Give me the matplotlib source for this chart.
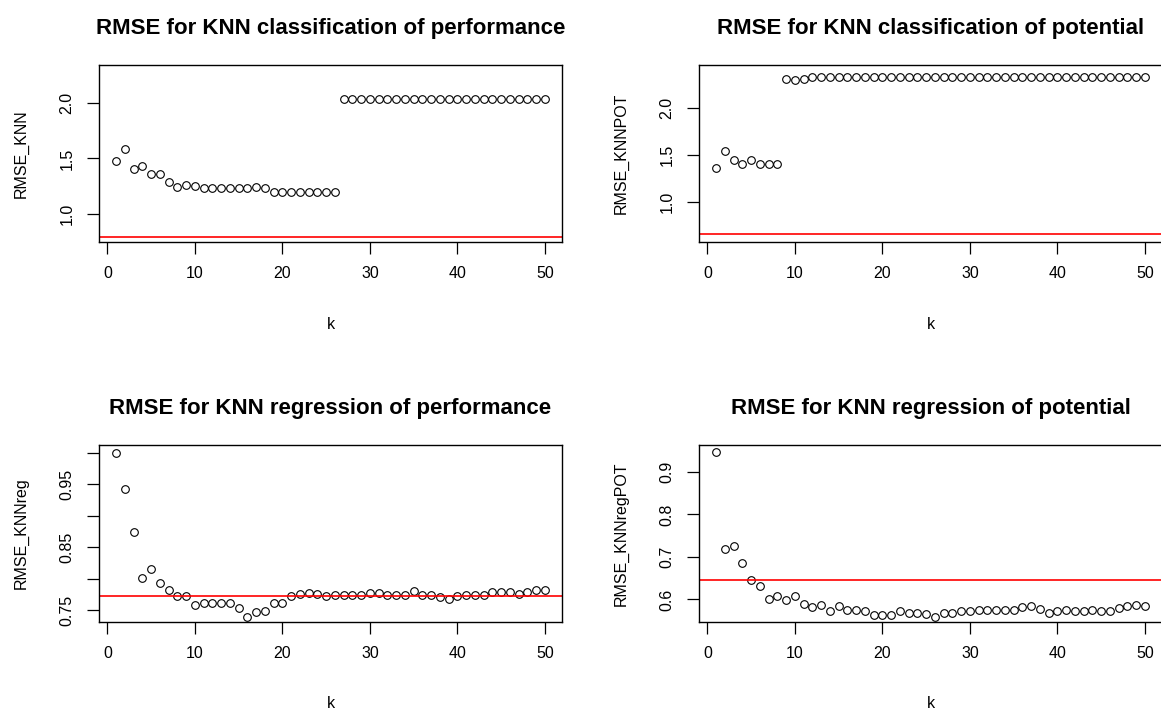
import numpy as np
import matplotlib
matplotlib.use("Agg")
import matplotlib.pyplot as plt

plt.rcParams["font.family"] = ["Liberation Sans", "DejaVu Sans"]

# k values tried
k = np.arange(1, 51)

# RMSE, KNN classification of performance
rmse_knn = [1.48, 1.59, 1.40, 1.43, 1.36, 1.36, 1.29, 1.24, 1.26, 1.25,
            1.23, 1.23, 1.23, 1.23, 1.23, 1.23, 1.24, 1.23, 1.20, 1.20,
            1.20, 1.20, 1.20, 1.20, 1.20, 1.20, 2.04, 2.04, 2.04, 2.04,
            2.04, 2.04, 2.04, 2.04, 2.04, 2.04, 2.04, 2.04, 2.04, 2.04,
            2.04, 2.04, 2.04, 2.04, 2.04, 2.04, 2.04, 2.04, 2.04, 2.04]

# RMSE, KNN classification of potential
rmse_knnpot = [1.36, 1.54, 1.44, 1.40, 1.45, 1.40, 1.40, 1.40, 2.30, 2.29,
               2.31, 2.33, 2.33, 2.33, 2.33, 2.33, 2.33, 2.33, 2.33, 2.33,
               2.33, 2.33, 2.33, 2.33, 2.33, 2.33, 2.33, 2.33, 2.33, 2.33,
               2.33, 2.33, 2.33, 2.33, 2.33, 2.33, 2.33, 2.33, 2.33, 2.33,
               2.33, 2.33, 2.33, 2.33, 2.33, 2.33, 2.33, 2.33, 2.33, 2.33]

# RMSE, KNN regression of performance
rmse_knnreg = [1.000, 0.942, 0.874, 0.802, 0.816, 0.793, 0.782, 0.772, 0.772, 0.758,
               0.762, 0.762, 0.761, 0.762, 0.754, 0.740, 0.747, 0.749, 0.762, 0.762,
               0.772, 0.776, 0.778, 0.776, 0.772, 0.775, 0.775, 0.775, 0.775, 0.7775,
               0.7775, 0.775, 0.775, 0.775, 0.780, 0.775, 0.775, 0.771, 0.768, 0.772,
               0.775, 0.775, 0.775, 0.779, 0.779, 0.779, 0.776, 0.779, 0.782, 0.782]

# RMSE, KNN regression of potential
rmse_knnregpot = [0.946, 0.718, 0.725, 0.685, 0.646, 0.632, 0.602, 0.609, 0.599, 0.609,
                  0.590, 0.583, 0.587, 0.573, 0.584, 0.576, 0.576, 0.574, 0.563, 0.563,
                  0.563, 0.572, 0.569, 0.569, 0.566, 0.558, 0.569, 0.569, 0.5725, 0.5725,
                  0.576, 0.576, 0.576, 0.576, 0.576, 0.582, 0.585, 0.577, 0.568, 0.5725,
                  0.576, 0.5725, 0.5725, 0.576, 0.574, 0.5725, 0.579, 0.5835, 0.5875, 0.5835]

# baseline RMSE (red reference lines)
baselines = [0.79, 0.66, 0.773, 0.646]

titles = ["RMSE for KNN classification of performance",
          "RMSE for KNN classification of potential",
          "RMSE for KNN regression of performance",
          "RMSE for KNN regression of potential"]
ylabels = ["RMSE_KNN", "RMSE_KNNPOT", "RMSE_KNNreg", "RMSE_KNNregPOT"]
ylims = [(0.742, 2.348), (0.574, 2.454), (0.7315, 1.012), (0.547, 0.963)]
yticks = [[1.0, 1.5, 2.0], [1.0, 1.5, 2.0],
          [0.75, 0.80, 0.85, 0.90, 0.95, 1.00], [0.6, 0.7, 0.8, 0.9]]
yticklabels = [["1.0", "1.5", "2.0"], ["1.0", "1.5", "2.0"],
               ["0.75", "", "0.85", "", "0.95", ""], ["0.6", "0.7", "0.8", "0.9"]]
series = [rmse_knn, rmse_knnpot, rmse_knnreg, rmse_knnregpot]

W, H = 1161, 711
fig = plt.figure(figsize=(W / 100, H / 100), dpi=100)

# panel boxes in pixels: left, top, right, bottom
boxes = [(99, 65, 562, 242), (699, 65, 1162, 242),
         (99, 445, 562, 622), (699, 445, 1162, 622)]

for i in range(4):
    l, t, r, b = boxes[i]
    ax = fig.add_axes([l / W, 1 - b / H, (r - l) / W, (b - t) / H])
    ax.plot(k, series[i], linestyle="none", marker="o", ms=5.5,
            mfc="none", mec="black", mew=0.8)
    ax.axhline(baselines[i], color="red", lw=1.2)

    ax.set_xlim(-0.96, 51.96)
    ax.set_ylim(*ylims[i])
    ax.set_xticks([0, 10, 20, 30, 40, 50])
    ax.set_yticks(yticks[i])
    ax.set_yticklabels(yticklabels[i], rotation=90, va="center")

    ax.tick_params(axis="both", direction="out", length=8.5, width=0.9,
                   labelsize=11.5, colors="black")
    ax.tick_params(axis="x", pad=9)
    ax.tick_params(axis="y", pad=9)
    for s in ax.spines.values():
        s.set_linewidth(1.0)
        s.set_color("black")

    ax.set_title(titles[i], fontsize=16, fontweight="bold", pad=22)
    ax.set_xlabel("k", fontsize=11.5)
    ax.set_ylabel(ylabels[i], fontsize=11.5)
    # axis titles sit a fixed pixel distance outside the box
    ax.xaxis.set_label_coords(0.5, -82 / (b - t))
    ax.xaxis.label.set_va("center")
    ax.yaxis.set_label_coords(-78 / (r - l), 0.5)
    ax.yaxis.label.set_va("center")

fig.savefig("out.png", dpi=100)
